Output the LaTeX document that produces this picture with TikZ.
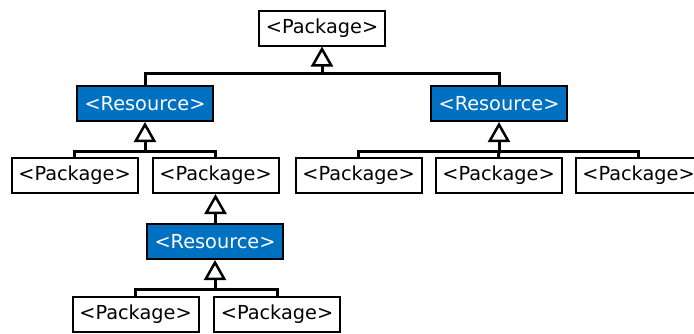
\documentclass[tikz,border=0pt]{standalone}
\usepackage{fontspec}
\setmainfont{DejaVu Sans}
\usetikzlibrary{arrows.meta}
\definecolor{resblue}{RGB}{0,112,192}
\tikzset{
  pkg/.style={draw=black, line width=2pt, fill=white, minimum width=126pt, minimum height=35pt, inner sep=0pt, font=\fontsize{19.3}{23}\selectfont},
  res/.style={draw=black, line width=2pt, fill=resblue, text=white, minimum width=136pt, minimum height=35pt, inner sep=0pt, font=\fontsize{19.3}{23}\selectfont},
  conn/.style={line width=3pt},
  inh/.style={line width=3pt, -{Triangle[open, length=20pt, width=22pt, line width=2.5pt]}}
}
\begin{document}
\begin{tikzpicture}[x=1pt,y=1pt]
\useasboundingbox (0,0) rectangle (694,-333);
\clip (0,0) rectangle (694,-333);
\node[pkg] (pTop) at (322,-28) {<Package>};
\node[res] (rL) at (145,-103.5) {<Resource>};
\node[res] (rR) at (499,-103.5) {<Resource>};
\node[pkg] (pL1) at (74.5,-175.5) {<Package>};
\node[pkg] (pL2) at (215.5,-175.5) {<Package>};
\node[pkg] (pR1) at (358.5,-175.5) {<Package>};
\node[pkg] (pR2) at (498.5,-175.5) {<Package>};
\node[pkg] (pR3) at (638.5,-175.5) {<Package>};
\node[res] (rB) at (215,-241.5) {<Resource>};
\node[pkg] (pB1) at (135.5,-314.5) {<Package>};
\node[pkg] (pB2) at (277,-314.5) {<Package>};
% top
\coordinate (b0) at (pTop.south |- 0,-73);
\draw[conn] (rL.north) |- (b0) -| (rR.north);
\draw[inh] (b0) -- (pTop.south);
% left resource
\coordinate (b1) at (rL.south |- 0,-151);
\draw[conn] (pL1.north) |- (b1) -| (pL2.north);
\draw[inh] (b1) -- (rL.south);
% right resource
\coordinate (b2) at (rR.south |- 0,-151);
\draw[conn] (pR1.north) |- (b2) -| (pR3.north);
\draw[conn] (pR2.north) -- (b2);
\draw[inh] (b2) -- (rR.south);
% pL2 -> rB
\draw[inh] (rB.north) -- (rB.north -| pL2.south) -- (pL2.south);
% bottom resource
\coordinate (b3) at (rB.south |- 0,-289);
\draw[conn] (pB1.north) |- (b3) -| (pB2.north);
\draw[inh] (b3) -- (rB.south);
\end{tikzpicture}
\end{document}
